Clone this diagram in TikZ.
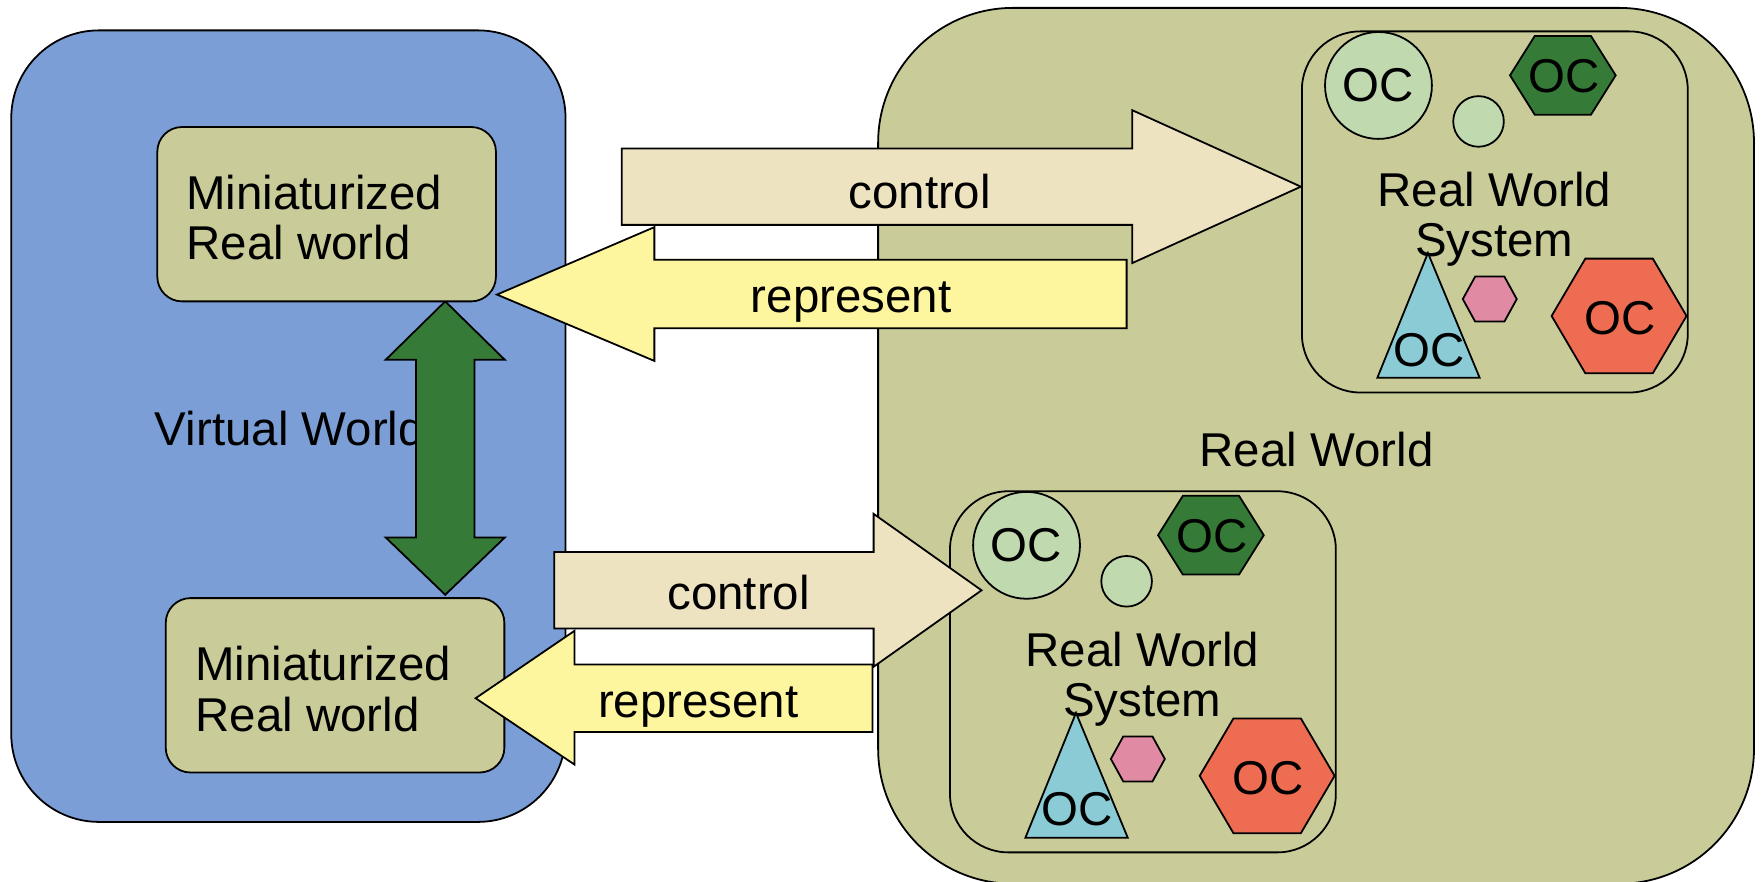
\documentclass[tikz,border=0pt]{standalone}
\usepackage{fontspec}
\setmainfont{Liberation Sans}
\definecolor{virtblue}{HTML}{7B9ED6}
\definecolor{khaki}{HTML}{C9CC98}
\definecolor{ctlcol}{HTML}{EDE3C1}
\definecolor{repcol}{HTML}{FEF59F}
\definecolor{darkgreen}{HTML}{367A37}
\definecolor{palegreen}{HTML}{C0D9AF}
\definecolor{skyblue}{HTML}{8ACBD5}
\definecolor{pinkish}{HTML}{E08BA3}
\definecolor{tomato}{HTML}{EE6C52}
\tikzset{
  outline/.style={draw=black, line width=0.45pt},
  minibox/.style={outline, fill=khaki, rounded corners=0.22cm, minimum width=3.01cm,
    minimum height=1.55cm},
  lbl/.style={inner sep=0pt},
  ocblob/.style={outline, circle, inner sep=0pt, minimum size=0.95cm, fill=palegreen},
}
% hexagon: centre, half width, half height, half length of the flat top edge
\newcommand\hexpath[4]{(#1) ++(-#2,0) -- ++({#2-#4},-#3) -- ++({2*#4},0) -- ++({#2-#4},#3)
  -- ++({#4-#2},#3) -- ++({-2*#4},0) -- cycle}
% contents of one real world system box
\newcommand\rwsystem[1]{%
  \node[outline, fill=khaki, rounded corners=0.52cm, minimum width=3.43cm, minimum height=3.21cm]
    (#1box) at (1329.5,188.5) {};
  \node[ocblob] (#1oc) at (1226,76) {OC};
  \node[ocblob, minimum size=0.45cm] (#1dot) at (1315,108) {};
  \filldraw[outline, fill=darkgreen] \hexpath{1390,67}{47}{35}{25};
  \node[lbl] (#1hexoc) at (1391,68) {OC};
  \node[lbl, align=center] (#1name) at (1329,195) {Real World\\System};
  \filldraw[outline, fill=skyblue] (1270,225) -- (1316,336) -- (1225,336) -- cycle;
  \node[lbl] (#1trioc) at (1271,311) {OC};
  \filldraw[outline, fill=pinkish] \hexpath{1325,266}{24}{20}{13};
  \filldraw[outline, fill=tomato] \hexpath{1440,281}{60}{51}{30};
  \node[lbl] (#1redoc) at (1441,283) {OC};
}
\begin{document}
\begin{tikzpicture}[x=0.01cm, y=-0.01cm, line width=0.45pt,
    font=\fontsize{12}{12.8}\selectfont]
  \useasboundingbox (0,0) rectangle (1568,784);

  % virtual world
  \filldraw[outline, fill=virtblue, rounded corners=0.78cm] (10,27) rectangle (503,731);
  \node[lbl, anchor=west] (virtual) at (137,381) {Virtual World};
  \filldraw[outline, fill=darkgreen] (396,268) -- (449,320) -- (422,320) -- (422,478)
    -- (449,478) -- (396,529) -- (343,478) -- (370,478) -- (370,320) -- (343,320) -- cycle;
  \node[minibox] (mini1) at (290.5,190.5) {};
  \node[lbl, anchor=west, align=left] (mini1txt) at (165,193.5) {Miniaturized\\Real world};
  \node[minibox] (mini2) at (298,609.5) {};
  \node[lbl, anchor=west, align=left] (mini2txt) at (173,613) {Miniaturized\\Real world};

  % real world
  \filldraw[outline, fill=khaki, rounded corners=1.2cm] (781,7) rectangle (1560,786);
  \node[lbl] (real) at (1171,400) {Real World};
  \begin{scope}
    \rwsystem{up}
  \end{scope}
  \begin{scope}[shift={(-313,409)}]
    \rwsystem{low}
  \end{scope}

  % control / represent arrows, upper pair
  \filldraw[outline, fill=ctlcol] (553,132) -- (1007,132) -- (1007,98) -- (1157,166)
    -- (1007,234) -- (1007,200) -- (553,200) -- cycle;
  \node[lbl] (ctl1) at (818,170) {control};
  \filldraw[outline, fill=repcol] (442,262) -- (582,202) -- (582,231) -- (1002,231)
    -- (1002,292) -- (582,292) -- (582,321) -- cycle;
  \node[lbl] (rep1) at (757,269) {represent};

  % control / represent arrows, lower pair
  \filldraw[outline, fill=ctlcol] (493,491) -- (777,491) -- (777,457) -- (873,525)
    -- (777,593) -- (777,559) -- (493,559) -- cycle;
  \node[lbl] (ctl2) at (657,527) {control};
  \filldraw[outline, fill=repcol] (423,621) -- (511,561) -- (511,591) -- (776,591)
    -- (776,651) -- (511,651) -- (511,680) -- cycle;
  \node[lbl] (rep2) at (621,629) {represent};
\end{tikzpicture}
\end{document}
